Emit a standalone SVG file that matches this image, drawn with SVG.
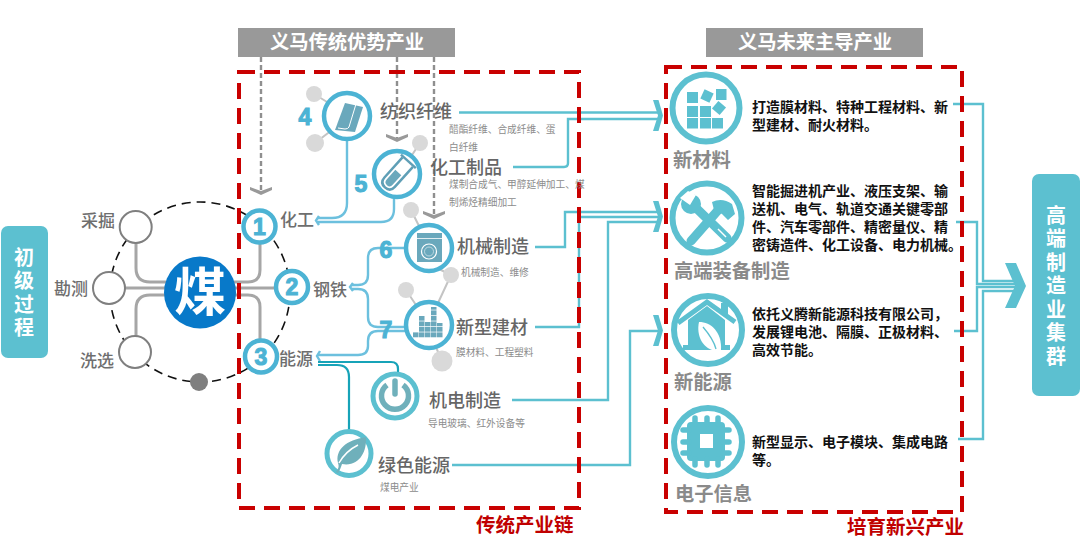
<svg xmlns="http://www.w3.org/2000/svg" xmlns:xlink="http://www.w3.org/1999/xlink" width="1080" height="550" viewBox="0 0 1080 550">
<style>
text{font-family:"Noto Sans CJK SC","Liberation Sans",sans-serif}
.hd{font-size:19.300px;font-weight:700;fill:#fff;text-anchor:middle}
.vt{font-size:20px;font-weight:700;fill:#fff;writing-mode:vertical-rl;letter-spacing:3.500px}
.lb{font-size:17px;font-weight:500;fill:#6e6e6e}
.tt{font-size:18px;font-weight:500;fill:#666}
.sm{font-size:9.700px;fill:#8c8c8c}
.em{font-size:19.300px;font-weight:700;fill:#8a8a8a}
.ds{font-size:14px;font-weight:700;fill:#111}
.rd{font-size:19.500px;font-weight:700;fill:#c00000}
.num{font-family:"Liberation Sans",sans-serif;font-size:23px;font-weight:700;fill:#4cb3d4;stroke:#4cb3d4;stroke-width:1.100;text-anchor:middle}
.gl{fill:none;stroke:#a6a6a6;stroke-width:3}
.tl{fill:none;stroke:#5cc0d0;stroke-width:2.400}
.bl{fill:none;stroke:#6cc0de;stroke-width:2.400}
.dk{fill:none;stroke:#17a3b8;stroke-width:2.200}
.gd{fill:none;stroke:#8f8f8f;stroke-width:2.400;stroke-dasharray:5 3}
.frame{fill:none;stroke:#c90000;stroke-width:4;stroke-dasharray:16 9}
.ring{fill:#fff;stroke:#4cb3d4;stroke-width:4.500}
.ring2{fill:#fff;stroke:#5cc0d0;stroke-width:5}
.ring3{fill:#fff;stroke:#5cc0d0;stroke-width:6}
.gc{fill:#fff;stroke:#7f7f7f;stroke-width:2}
.dot{fill:#d9d9d9}
.ic{fill:#6aa8bc}
.ic2{fill:#5cc0d0}
</style>
<defs>
<polygon id="chev" points="653,100 658.500,100 663,115.500 658.500,131 653,131 658,115.500" fill="#5cc0d0"/>
<polygon id="gch" points="-11,-4 0,0 11,-4 11,-1 0,4 -11,-1" fill="#999"/>
<pattern id="bricks" width="6" height="5.500" patternUnits="userSpaceOnUse" x="413" y="338">
<rect width="6" height="5.500" fill="#fff"/><rect width="5.500" height="4.800" fill="#6aa8bc"/>
</pattern>
</defs>

<g id="connectors">
<circle cx="200" cy="292" r="90" fill="none" stroke="#111" stroke-width="1.600" stroke-dasharray="9 6"/>
<path class="gl" d="M136 243V268Q136 282 150 282H166"/>
<path class="gl" d="M125 288H166"/>
<path class="gl" d="M136 336V309Q136 295 150 295H166"/>
<path class="gl" d="M234 282H248Q260 282 260 270V244"/>
<path class="gl" d="M234 288H275"/>
<path class="gl" d="M234 295H248Q260 295 260 307V339"/>
<path class="gd" d="M261 57V190M397 57V138M434 57V214"/>
<use xlink:href="#gch" href="#gch" x="261" y="191"/>
<use xlink:href="#gch" href="#gch" x="397" y="138"/>
<use xlink:href="#gch" href="#gch" x="434" y="215"/>
<g stroke="#c4c4c4" stroke-width="2">
<path d="M314 94L332 105M315 143L332 130M420 143L410 158M411 210L420 228M451 275L437 268M451 275L438 303M406 290L418 308M442 361L435 345"/>
</g>
<path class="bl" d="M347 140V203Q347 218 332 218H318"/>
<path class="bl" d="M394 197V209Q394 222 381 222H318"/>
<path class="bl" d="M319 216L316 220.500L319 225"/>
<path class="bl" d="M405 248H378Q368 248 368 258V275Q368 285 358 285H351"/>
<path class="bl" d="M351 289H358Q368 289 368 299V317Q368 327 378 327H405"/>
<path class="bl" d="M353 283L350 287L353 291"/>
<path class="bl" d="M405 331H378Q368 331 368 341V346Q368 355 358 355H318"/>
<path class="bl" d="M320 351L317 356L320 361"/>
<path class="dk" d="M318 362H391Q398 362 398 369V373"/>
<path class="dk" d="M318 365H337Q349 365 349 377V431"/>
<path class="tl" d="M459 112.500H658"/>
<path class="tl" d="M513 167H564Q568 167 568 163V119H658"/>
<path class="tl" d="M535 247H565V212H658"/>
<path class="tl" d="M535 327H579V217H658"/>
<path class="tl" d="M512 400H608V222H658"/>
<path class="tl" d="M452 465H630V331H658"/>
<use xlink:href="#chev" href="#chev"/>
<use xlink:href="#chev" href="#chev" y="101"/>
<use xlink:href="#chev" href="#chev" y="215"/>
<path class="tl" d="M953 104H983V281H1016"/>
<path class="tl" d="M956 222H977V284H1016"/>
<path class="tl" d="M954 331H977V287H1016"/>
<path class="tl" d="M958 439H983V291H1016"/>
<polygon points="1005,263 1016,263 1026,286 1016,308 1005,308 1015,286" fill="#5cc0d0"/>
</g>

<rect class="frame" x="239" y="72" width="340" height="436"/>
<rect class="frame" x="666" y="67" width="296" height="445"/>
<text class="rd" x="476" y="532">传统产业链</text>
<text class="rd" x="847" y="534">培育新兴产业</text>

<g id="hdr-traditional"><rect x="238" y="28" width="217" height="29" fill="#999"/><text class="hd" x="347" y="49">义马传统优势产业</text></g>
<g id="hdr-future"><rect x="706" y="28" width="217" height="29" fill="#999"/><text class="hd" x="815" y="49">义马未来主导产业</text></g>

<g id="primary"><rect x="1" y="226" width="47" height="132" rx="7" fill="#5cc0d0"/>
<text class="vt" x="24" y="247">初级过程</text></g>
<g id="cluster"><rect x="1032" y="174" width="48" height="222" rx="7" fill="#5cc0d0"/>
<text class="vt" x="1056" y="205">高端制造业集群</text></g>

<g id="coal"><circle cx="200" cy="292.500" r="36" fill="#0879c9"/><text x="200" y="311" font-size="52" font-weight="700" fill="#fff" text-anchor="middle">煤</text></g>
<g id="mining"><circle class="gc" cx="135.700" cy="227" r="16"/><text class="lb" x="81" y="227">采掘</text></g>
<g id="survey"><circle class="gc" cx="109" cy="288" r="16"/><text class="lb" x="54" y="295">勘测</text></g>
<g id="wash"><circle class="gc" cx="135" cy="352" r="16"/><text class="lb" x="80" y="367">洗选</text></g>
<circle id="dot-gray" cx="199" cy="382" r="9" fill="#7f7f7f"/>

<g id="n1"><circle class="ring" cx="259.500" cy="226.500" r="16"/><text class="num" x="259.500" y="234.800">1</text><text class="lb" x="280" y="226">化工</text></g>
<g id="n2"><circle class="ring" cx="292" cy="287" r="16"/><text class="num" x="292" y="295.300">2</text><text class="lb" x="313" y="296">钢铁</text></g>
<g id="n3"><circle class="ring" cx="261" cy="356.500" r="16"/><text class="num" x="261" y="364.800">3</text><text class="lb" x="279" y="365">能源</text></g>

<g id="n4">
<circle class="dot" cx="314" cy="94" r="8"/><circle class="dot" cx="315" cy="143" r="9"/>
<circle class="ring" cx="347" cy="116" r="23"/>
<path class="ic" d="M345 103L363 107L355 132L335 130Z"/>
<path d="M356 104L349 127Q348 129 345 129L338 128" fill="none" stroke="#fff" stroke-width="1"/>
<text class="num" x="305" y="124.500">4</text>
<text class="tt" x="380" y="118">纺织纤维</text>
<text class="sm"><tspan x="449" y="133">醋酯纤维、合成纤维、蛋</tspan><tspan x="449" y="151">白纤维</tspan></text>
</g>
<g id="n5">
<circle class="dot" cx="420" cy="143" r="8"/>
<circle class="ring" cx="397" cy="174" r="23"/>
<g transform="rotate(42 397 174)">
<path d="M390 158V185Q390 192 397 192Q404 192 404 185V158" fill="none" stroke="#5f9fb6" stroke-width="2.500"/>
<path d="M387 157H407" stroke="#5f9fb6" stroke-width="2.500"/>
<path class="ic" d="M393 172H401V185Q401 189 397 189Q393 189 393 185Z"/>
</g>
<text class="num" x="361" y="191.500">5</text>
<text class="tt" x="430" y="174">化工制品</text>
<text class="sm"><tspan x="449" y="188">煤制合成气、甲醇延伸加工、煤</tspan><tspan x="449" y="206">制烯烃精细加工</tspan></text>
</g>
<g id="n6">
<circle class="dot" cx="411" cy="210" r="8"/><circle class="dot" cx="451" cy="275" r="8"/>
<circle class="ring" cx="429" cy="248" r="23"/>
<rect class="ic" x="417" y="233" width="25" height="29"/>
<path d="M417 238.500H442" stroke="#fff" stroke-width="0.800"/>
<circle cx="429" cy="251.500" r="7.500" fill="none" stroke="#fff" stroke-width="1.200"/>
<circle cx="429" cy="251.500" r="4.500" fill="none" stroke="#cfe3ea" stroke-width="0.800"/>
<text class="num" x="386" y="257.500">6</text>
<text class="tt" x="457" y="253">机械制造</text>
<text class="sm" x="461" y="276">机械制造、维修</text>
</g>
<g id="n7">
<circle class="dot" cx="406" cy="290" r="8"/><circle class="dot" cx="442" cy="361" r="10.500"/>
<circle class="ring" cx="429" cy="325" r="23"/>
<path d="M413 338V332H419V316H425V322H431V307H437V323H443V338Z" fill="url(#bricks)"/>
<text class="num" x="386" y="337.500">7</text>
<text class="tt" x="456" y="334">新型建材</text>
<text class="sm" x="456" y="356">膜材料、工程塑料</text>
</g>
<g id="n-mech">
<circle class="ring2" cx="395" cy="396" r="22"/>
<path d="M387 385A13.500 13.500 0 1 0 403 385" fill="none" stroke="#6fb0bb" stroke-width="5.500"/>
<path d="M395 381V394" stroke="#6fb0bb" stroke-width="5.500" stroke-linecap="round"/>
<text class="tt" x="429" y="407">机电制造</text>
<text class="sm" x="428" y="427">导电玻璃、红外设备等</text>
</g>
<g id="n-green">
<circle class="ring2" cx="349" cy="453.500" r="22"/>
<path d="M336 472C339 468 339 466 338 463C335 450 346 440 366 437C367 452 359 467 342 464C341 467 340 470 338 473Z" fill="#6fb0bb"/>
<path d="M339 463C344 454 350 449 358 445" fill="none" stroke="#fff" stroke-width="1.500"/>
<text class="tt" x="378" y="472">绿色能源</text>
<text class="sm" x="380" y="491">煤电产业</text>
</g>

<g id="f1">
<circle class="ring3" cx="706" cy="108" r="33.500"/>
<g class="ic2">
<rect x="687" y="92" width="11" height="11"/><rect x="702" y="91" width="10" height="10" transform="rotate(25 707 96)"/><rect x="716" y="89" width="10.500" height="11"/>
<rect x="687" y="106" width="11" height="11"/><rect x="700" y="106" width="11" height="11"/><rect x="714" y="103" width="10" height="10" transform="rotate(40 719 108)"/>
<rect x="687" y="118" width="11" height="10.500"/><rect x="700" y="118" width="11" height="10.500"/><rect x="712" y="118" width="11" height="10.500"/>
</g>
<text class="em" x="673" y="167">新材料</text>
<text class="ds"><tspan x="752" y="112">打造膜材料、特种工程材料、新</tspan><tspan x="752" y="130">型建材、耐火材料。</tspan></text>
</g>
<g id="f2">
<circle class="ring3" cx="707" cy="218" r="34.500"/>
<g stroke="#5cc0d0" stroke-width="9" fill="none"><path d="M692 204L727 238" stroke-linecap="round"/><path d="M720 208L691 241" stroke-linecap="round"/></g>
<path d="M712 202Q722 197 732 204L735 214L728 220L722 214L714 210Z" fill="#5cc0d0"/>
<circle cx="691" cy="204" r="10" fill="#5cc0d0"/>
<path d="M680 198L690 205L696 195L688 191Z" fill="#fff"/>
<path d="M718 229L726 237" stroke="#fff" stroke-width="1.500"/>
<text class="em" x="674" y="278">高端装备制造</text>
<text class="ds"><tspan x="752" y="196">智能掘进机产业、液压支架、输</tspan><tspan x="752" y="214">送机、电气、轨道交通关键零部</tspan><tspan x="752" y="232">件、汽车零部件、精密量仪、精</tspan><tspan x="752" y="250">密铸造件、化工设备、电力机械。</tspan></text>
</g>
<g id="f3">
<circle class="ring3" cx="708" cy="330" r="34"/>
<path d="M678 323L707 302L735 322" fill="none" stroke="#5cc0d0" stroke-width="5"/>
<path d="M721 303H728V316L721 311Z" fill="#5cc0d0"/>
<path d="M688 320L707 306L725 320V345H730V350H683V345H688Z" fill="#5cc0d0"/>
<path d="M699 322C711 322 722 332 721 350H712C703 347 696 336 699 322Z" fill="#fff"/>
<path d="M703 327C709 334 714 341 716 349" fill="none" stroke="#5cc0d0" stroke-width="1.300"/>
<text class="em" x="674" y="389">新能源</text>
<text class="ds"><tspan x="752" y="319">依托义腾新能源科技有限公司，</tspan><tspan x="752" y="337">发展锂电池、隔膜、正极材料、</tspan><tspan x="752" y="355">高效节能。</tspan></text>
</g>
<g id="f4">
<circle class="ring3" cx="708" cy="442" r="34"/>
<rect x="687" y="422" width="38" height="39" rx="4" fill="#5cc0d0"/>
<rect x="700" y="434" width="13" height="14" fill="#fff"/>
<g stroke="#5cc0d0" stroke-width="5.500" stroke-linecap="round">
<path d="M695 418V424M707 418V424M718 418V424M695 459V465M707 459V465M718 459V465M683 430H689M683 442H689M683 453H689M723 430H729M723 442H729M723 453H729"/>
</g>
<text class="em" x="675" y="501">电子信息</text>
<text class="ds"><tspan x="752" y="447">新型显示、电子模块、集成电路</tspan><tspan x="752" y="465">等。</tspan></text>
</g>
</svg>
